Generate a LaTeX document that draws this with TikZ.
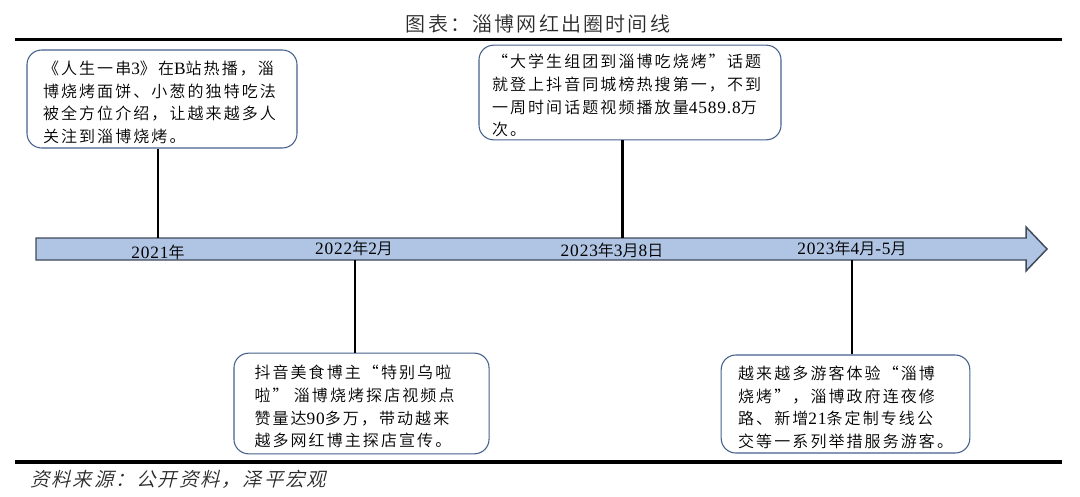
\documentclass[tikz,border=0pt]{standalone}
\usepackage{fontspec}
\newfontfamily\cjkbody[LetterSpace=13]{Noto Sans CJK SC DemiLight}
\newfontfamily\cjktitle[LetterSpace=11]{Noto Sans CJK SC DemiLight}
\newfontfamily\cjksource[LetterSpace=10,FakeSlant=0.25]{Noto Sans CJK SC DemiLight}
\newfontfamily\digitfont[LetterSpace=5]{Liberation Serif}
\newcommand{\dg}[1]{{\digitfont\fontsize{13}{17}\selectfont #1}}
\definecolor{axisfill}{HTML}{B0C4E4}
\definecolor{axisedge}{HTML}{3F4A5A}
\definecolor{boxedge}{HTML}{45608C}
\definecolor{captext}{HTML}{2A2A2A}
\tikzset{
  evbox/.style 2 args={draw=boxedge,line width=0.8pt,fill=white,rounded corners=11pt,align=left,
    text width=#1,inner xsep=#2,inner ysep=0pt,
    execute at begin node={\rule{0pt}{15pt}},
    font=\cjkbody\fontsize{12}{17}\selectfont},
  stem/.style={draw=black,line width=1.7pt},
  rule/.style={draw=black,line width=2.3pt},
  datelabel/.style={inner sep=0pt,font=\cjkbody\fontsize{12}{17}\selectfont}
}
\begin{document}
\begin{tikzpicture}[x=0.75pt,y=-0.75pt]
\useasboundingbox (0,0) rectangle (1080,496);

% rules
\coordinate (ruleTopL) at (15,39.5);
\coordinate (ruleTopR) at (1062,39.5);
\coordinate (ruleBotL) at (15,462);
\coordinate (ruleBotR) at (1062,462);
\draw[rule] (ruleTopL) -- (ruleTopR);
\draw[rule] (ruleBotL) -- (ruleBotR);

\node[inner sep=0pt,text=captext,font=\cjktitle\fontsize{15}{17}\selectfont] (title) at (538,24) {图表：淄博网红出圈时间线};
\node[inner sep=0pt,anchor=west,text=captext,font=\cjksource\fontsize{14.5}{17}\selectfont] (source) at (30,479) {资料来源：公开资料，泽平宏观};

% time axis
\draw[draw=axisedge,line width=1.1pt,fill=axisfill] (36,238) -- (1026,238) -- (1026,227) -- (1047,249)
  -- (1026,271) -- (1026,260) -- (36,260) -- cycle;

\coordinate (tick1) at (158,238);
\coordinate (tick2) at (355,260);
\coordinate (tick3) at (622.5,238);
\coordinate (tick4) at (852,260);

% events
\node[evbox={178.5pt}{12pt},minimum height=73.5pt] (boxA) at (162,99) {《人生一串\dg{3}》在\dg{B}站热播，淄\\博烧烤面饼、小葱的独特吃法\\被全方位介绍，让越来越多人\\关注到淄博烧烤。};
\node[evbox={207pt}{9.75pt},minimum height=71pt] (boxB) at (630,92.5) {“大学生组团到淄博吃烧烤”话题\\就登上抖音同城榜热搜第一，不到\\一周时间话题视频播放量\dg{4589.8}万\\次。};
\node[evbox={160.5pt}{15.4pt},minimum height=75.5pt] (boxC) at (361.5,403.5) {抖音美食博主“特别乌啦\\啦” 淄博烧烤探店视频点\\赞量达\dg{90}多万，带动越来\\越多网红博主探店宣传。};
\node[evbox={161pt}{12.75pt},minimum height=73.5pt] (boxD) at (845.5,404) {越来越多游客体验“淄博\\烧烤”，淄博政府连夜修\\路、新增\dg{21}条定制专线公\\交等一系列举措服务游客。};

\draw[stem] (boxA.south -| tick1) -- (tick1);
\draw[stem] (boxB.south -| tick3) -- (tick3);
\draw[stem] (tick2) -- (tick2 |- boxC.north);
\draw[stem] (tick4) -- (tick4 |- boxD.north);

% dates
\node[datelabel] (date1) at (158,252) {\dg{2021}年};
\node[datelabel] (date2) at (354,248) {\dg{2022}年\dg{2}月};
\node[datelabel] (date3) at (612,250) {\dg{2023}年\dg{3}月\dg{8}日};
\node[datelabel] (date4) at (852,248) {\dg{2023}年\dg{4}月\dg{-5}月};
\end{tikzpicture}
\end{document}
